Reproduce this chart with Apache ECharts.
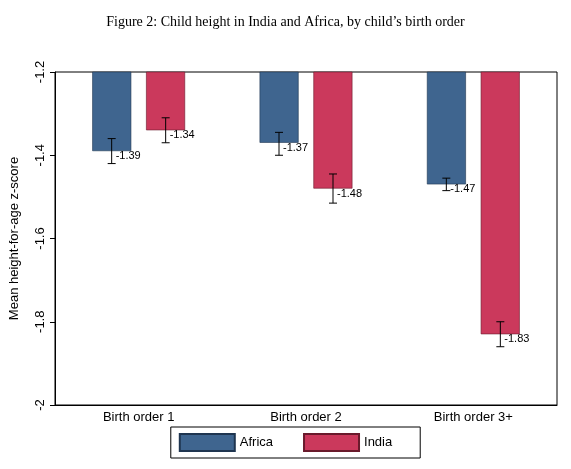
<!DOCTYPE html>
<html><head><meta charset="utf-8">
<script src="https://cdn.jsdelivr.net/npm/echarts@6/dist/echarts.min.js"></script>
<style>html,body{margin:0;padding:0;background:#fff}#c{width:571px;height:469px}</style>
</head><body><div id="c"></div>
<script>
const categories = ['Birth order 1','Birth order 2','Birth order 3+'];
const africa = [-1.39,-1.37,-1.47];
const india = [-1.34,-1.48,-1.83];
const africaLo = [-1.42,-1.40,-1.485];
const africaHi = [-1.36,-1.345,-1.455];
const indiaLo = [-1.37,-1.515,-1.86];
const indiaHi = [-1.31,-1.445,-1.80];
const yTicks = [-2,-1.8,-1.6,-1.4,-1.2];

const chart = echarts.init(document.getElementById('c'));
function errSeries(vals, lo, hi, off){
  return {type:'custom', silent:true, z:10, clip:false,
    data: vals.map((v,i)=>[i,v,lo[i],hi[i]]),
    renderItem:(p,api)=>{
      const c = api.coord([api.value(0), api.value(1)]);
      const a = api.coord([api.value(0), api.value(2)]);
      const b = api.coord([api.value(0), api.value(3)]);
      const x = c[0]+off, st={stroke:'#000',lineWidth:1};
      return {type:'group',children:[
        {type:'line',shape:{x1:x,y1:a[1],x2:x,y2:b[1]},style:st},
        {type:'line',shape:{x1:x-4,y1:a[1],x2:x+4,y2:a[1]},style:st},
        {type:'line',shape:{x1:x-4,y1:b[1],x2:x+4,y2:b[1]},style:st},
        {type:'text',x:x+4,y:c[1]+5,style:{text:api.value(1).toFixed(2),fill:'#000',font:'11px Liberation Sans',textAlign:'left',textVerticalAlign:'middle'}}
      ]};
    }};
}
chart.setOption({
  animation:false,
  title:{text:'Figure 2: Child height in India and Africa, by child\u2019s birth order',left:'center',top:10,
    textStyle:{fontFamily:'Liberation Serif',fontWeight:'normal',fontSize:14,color:'#000'}},
  grid:{left:53,right:14,top:72,bottom:64,show:true,borderColor:'#000',borderWidth:1},
  legend:{data:['Africa','India'],bottom:11,left:'center',itemWidth:55,itemHeight:17,itemGap:30,
    padding:[6,28,6,8],borderColor:'#000',borderWidth:1,borderRadius:0,icon:'rect',
    textStyle:{fontFamily:'Liberation Sans',fontSize:13,color:'#000'}},
  xAxis:{type:'category',data:categories,axisTick:{show:false},
    axisLine:{lineStyle:{color:'#000'}},
    axisLabel:{fontFamily:'Liberation Sans',fontSize:13,color:'#000',margin:6}},
  yAxis:{type:'value',min:-2,max:-1.2,interval:0.2,splitLine:{show:false},
    name:'Mean height-for-age z-score',nameLocation:'middle',nameGap:34,
    nameTextStyle:{fontFamily:'Liberation Sans',fontSize:13,color:'#000'},
    axisLine:{show:true,lineStyle:{color:'#000'}},axisTick:{show:true,length:5,lineStyle:{color:'#000'}},
    axisLabel:{rotate:90,fontFamily:'Liberation Sans',fontSize:13,color:'#000',margin:8,
      formatter:v=>{const t=yTicks.find(x=>Math.abs(x-v)<1e-9);return t===undefined?'':String(t);}}},
  series:[
    {name:'Africa',type:'bar',data:africa,barWidth:39,barGap:'38%',itemStyle:{color:'#3f658f',borderColor:'#1f3550',borderWidth:0.6}},
    {name:'India',type:'bar',data:india,barWidth:39,itemStyle:{color:'#cb395c',borderColor:'#6a1a2c',borderWidth:0.6}},
    errSeries(africa,africaLo,africaHi,-27),
    errSeries(india,indiaLo,indiaHi,27)
  ]
});
</script></body></html>
